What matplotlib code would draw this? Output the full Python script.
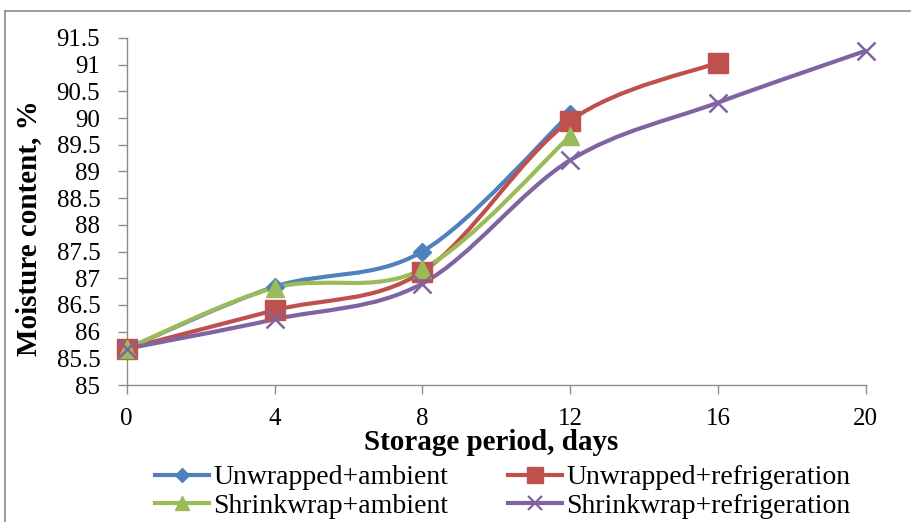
import matplotlib
matplotlib.use("Agg")
import matplotlib.pyplot as plt
from matplotlib.path import Path
from matplotlib.patches import PathPatch
from matplotlib.lines import Line2D
import numpy as np

plt.rcParams['font.family'] = ['Liberation Serif', 'DejaVu Serif']

days = [0, 4, 8, 12, 16, 20]
x_ticks = [0, 4, 8, 12, 16, 20]
y_ticks = [85, 85.5, 86, 86.5, 87, 87.5, 88, 88.5, 89, 89.5, 90, 90.5, 91, 91.5]

unwrapped_ambient = [85.68, 86.84, 87.50, 90.08]
unwrapped_refrig = [85.68, 86.40, 87.12, 89.95, 91.04]
shrink_ambient = [85.68, 86.82, 87.17, 89.66]
shrink_refrig = [85.68, 86.23, 86.90, 89.21, 90.29, 91.26]

labels = ["Unwrapped+ambient", "Unwrapped+refrigeration",
          "Shrinkwrap+ambient", "Shrinkwrap+refrigeration"]
colors = ["#4F81BD", "#C0504D", "#9BBB59", "#8064A2"]
markers = ["D", "s", "^", "x"]
msizes = [9, 14.5, 13, 13]
series = [unwrapped_ambient, unwrapped_refrig, shrink_ambient, shrink_refrig]

fig = plt.figure(figsize=(9.11, 5.22), dpi=100)
ax = fig.add_axes([126.7/911, 1-385/522, (865.7-126.7)/911, (385-38)/522])


def smooth_path(xs, ys):
    pts = np.column_stack([xs, ys]).astype(float)
    n = len(pts)
    verts = [pts[0]]
    codes = [Path.MOVETO]
    for i in range(n - 1):
        p0 = pts[i - 1] if i > 0 else pts[i]
        p1 = pts[i]
        p2 = pts[i + 1]
        p3 = pts[i + 2] if i + 2 < n else pts[i + 1]
        c1 = p1 + (p2 - p0) / 6.0
        c2 = p2 - (p3 - p1) / 6.0
        verts += [c1, c2, p2]
        codes += [Path.CURVE4] * 3
    return Path(verts, codes)


for vals, c, m, ms in zip(series, colors, markers, msizes):
    xs = days[:len(vals)]
    patch = PathPatch(smooth_path(xs, vals), facecolor='none', edgecolor=c,
                      lw=3.0, capstyle='round', joinstyle='round', zorder=2,
                      clip_on=False)
    ax.add_patch(patch)
    if m == "x":
        ax.plot(xs, vals, linestyle='none', marker=m, markersize=ms,
                markeredgecolor=c, markeredgewidth=1.8, zorder=3, clip_on=False)
    else:
        ax.plot(xs, vals, linestyle='none', marker=m, markersize=ms,
                markerfacecolor=c, markeredgecolor=c, zorder=3, clip_on=False)

ax.set_xlim(0, 20)
ax.set_ylim(85, 91.5)
ax.set_xticks(x_ticks)
ax.set_yticks(y_ticks)
ax.set_xticklabels([str(v) for v in x_ticks])
ax.set_yticklabels([f"{v:g}" for v in y_ticks])
for s in ['top', 'right']:
    ax.spines[s].set_visible(False)
for s in ['left', 'bottom']:
    ax.spines[s].set_color('#8C8C8C')
    ax.spines[s].set_linewidth(1.0)
ax.tick_params(axis='both', direction='out', length=6.5, width=1.0,
               color='#8C8C8C', labelsize=18)
ax.tick_params(axis='y', pad=12.5)
ax.tick_params(axis='x', pad=10)

ax.set_xlabel("Storage period, days", fontsize=21, fontweight='bold')
ax.xaxis.set_label_coords((491 - 126.7) / 739, (385 - 443) / 347)
ax.xaxis.label.set_va('center')
ax.set_ylabel("Moisture content, %", fontsize=21, fontweight='bold')
ax.yaxis.set_label_coords((29 - 126.7) / 739, (385 - 228) / 347)
ax.yaxis.label.set_va('center')


def handle(c, m, ms):
    return Line2D([0], [0], color=c, lw=3.0, marker=m, markersize=ms * 0.75,
                  markerfacecolor=c, markeredgecolor=c,
                  markeredgewidth=(1.6 if m == "x" else 1.0))


h = [handle(c, m, ms) for c, m, ms in zip(colors, markers, msizes)]
leg_kw = dict(frameon=False, fontsize=20, handlelength=1.95, handletextpad=0.15,
              labelspacing=0.12, borderpad=0.0, borderaxespad=0.0,
              loc='center left')
leg1 = fig.legend([h[0], h[2]], [labels[0], labels[2]],
                  bbox_to_anchor=(155/911, 1 - 492/522), **leg_kw)
leg2 = fig.legend([h[1], h[3]], [labels[1], labels[3]],
                  bbox_to_anchor=(508/911, 1 - 492/522), **leg_kw)

# outer border fragments
fig.add_artist(Line2D([5/911, 5/911], [0, 1-11/522], color='#8C8C8C', lw=1.2,
                      transform=fig.transFigure))
fig.add_artist(Line2D([5/911, 1], [1-11/522, 1-11/522], color='#8C8C8C', lw=1.2,
                      transform=fig.transFigure))

fig.savefig("out.png", dpi=100)
